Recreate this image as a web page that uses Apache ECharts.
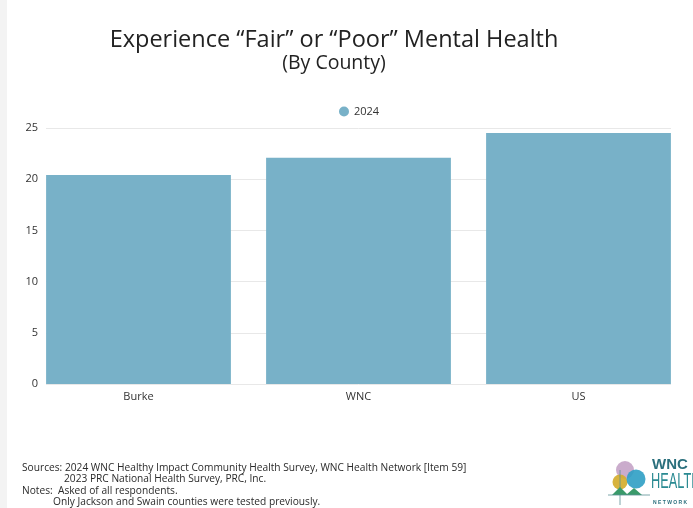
<!DOCTYPE html>
<html>
<head>
<meta charset="utf-8">
<script src="https://cdn.jsdelivr.net/npm/echarts@6/dist/echarts.min.js"></script>
<style>
html,body{margin:0;padding:0;background:#fff;}
#c{width:693px;height:508px;}
</style>
</head>
<body>
<div id="c"></div>
<script>
const categories = ['Burke', 'WNC', 'US'];
const seriesName = '2024';
const values2024 = [20.4, 22.1, 24.5];
const yTicks = { min: 0, max: 25, interval: 5 };
const titleText = 'Experience \u201cFair\u201d or \u201cPoor\u201d Mental Health';
const subtitleText = '(By County)';
const footLines = [
  'Sources: 2024 WNC Healthy Impact Community Health Survey, WNC Health Network [Item 59]',
  '2023 PRC National Health Survey, PRC, Inc.',
  'Notes:  Asked of all respondents.',
  'Only Jackson and Swain counties were tested previously.'
];

const font = '"Open Sans", "Noto Sans", sans-serif';
const barColor = '#78b1c8';
const footFont = '10.2px ' + font;

const chart = echarts.init(document.getElementById('c'), null, {renderer: 'canvas'});
chart.setOption({
  backgroundColor: '#ffffff',
  animation: false,
  legend: {
    data: [seriesName], top: 101, left: 334, icon: 'circle',
    itemWidth: 10, itemHeight: 10, itemGap: 6,
    textStyle: {fontFamily: font, fontSize: 11, color: '#333'}
  },
  grid: [
    {left: 46, right: 22, top: 128, bottom: 124},
    {left: 28.5, right: 4.5, top: 128, bottom: 124}
  ],
  xAxis: [
    {type: 'category', gridIndex: 0, data: categories, show: false},
    {type: 'category', gridIndex: 1, data: categories,
     axisLine: {show: false}, axisTick: {show: false},
     axisLabel: {fontFamily: font, fontSize: 11, color: '#333', margin: 7}}
  ],
  yAxis: [
    {type: 'value', gridIndex: 0, min: yTicks.min, max: yTicks.max, interval: yTicks.interval,
     axisLine: {show: false}, axisTick: {show: false},
     axisLabel: {fontFamily: font, fontSize: 11, color: '#333', margin: 8},
     splitLine: {lineStyle: {color: '#e8e8e8', width: 1}}},
    {type: 'value', gridIndex: 1, min: yTicks.min, max: yTicks.max, interval: yTicks.interval, show: false}
  ],
  series: [{
    name: seriesName, type: 'bar', xAxisIndex: 1, yAxisIndex: 1,
    data: values2024, barCategoryGap: '16%',
    itemStyle: {color: barColor}
  }],
  graphic: [
    {type: 'rect', left: 0, top: 0, shape: {width: 7, height: 508}, style: {fill: '#f3f3f3'}, silent: true},
    {type: 'text', x: 334, y: 40, style: {text: titleText, font: '23.5px ' + font, fill: '#222', align: 'center', verticalAlign: 'middle'}},
    {type: 'text', x: 334, y: 63, style: {text: subtitleText, font: '19.5px ' + font, fill: '#222', align: 'center', verticalAlign: 'middle'}},
    {type: 'text', x: 22, y: 468, style: {text: footLines[0], font: footFont, fill: '#2a2a2a', verticalAlign: 'middle'}},
    {type: 'text', x: 64, y: 479.5, style: {text: footLines[1], font: footFont, fill: '#2a2a2a', verticalAlign: 'middle'}},
    {type: 'text', x: 22, y: 491, style: {text: footLines[2], font: footFont, fill: '#2a2a2a', verticalAlign: 'middle'}},
    {type: 'text', x: 53, y: 502.5, style: {text: footLines[3], font: footFont, fill: '#2a2a2a', verticalAlign: 'middle'}},
    {type: 'circle', shape: {cx: 625, cy: 470, r: 9}, style: {fill: '#c4a3c6', opacity: 0.9}},
    {type: 'circle', shape: {cx: 620, cy: 482, r: 7.5}, style: {fill: '#d4ad2e', opacity: 0.92}},
    {type: 'circle', shape: {cx: 636, cy: 479, r: 9.5}, style: {fill: '#2e9ec4', opacity: 0.9}},
    {type: 'line', shape: {x1: 620, y1: 470, x2: 620, y2: 505}, style: {stroke: '#5a8f95', lineWidth: 0.8}},
    {type: 'polygon', shape: {points: [[612,495],[620,487],[628,495]]}, style: {fill: '#3a9a6a'}},
    {type: 'polygon', shape: {points: [[626,495],[634,488],[642,495]]}, style: {fill: '#3a9a6a'}},
    {type: 'line', shape: {x1: 608, y1: 495, x2: 650, y2: 495}, style: {stroke: '#5a8f95', lineWidth: 0.8}},
    {type: 'text', x: 652, y: 465, style: {text: 'WNC', font: 'bold 15px "Liberation Sans", sans-serif', fill: '#2a6f7c', verticalAlign: 'middle'}},
    {type: 'group', x: 651, y: 482, scaleX: 0.58, scaleY: 1, children: [
      {type: 'text', x: 0, y: 0, style: {text: 'HEALTH', font: '22px "Liberation Sans", sans-serif', fill: '#2a8a92', verticalAlign: 'middle'}}
    ]},
    {type: 'text', x: 653, y: 502.5, style: {text: 'N E T W O R K', font: 'bold 5px sans-serif', fill: '#2a6f7c', verticalAlign: 'middle'}}
  ]
});
</script>
</body>
</html>
